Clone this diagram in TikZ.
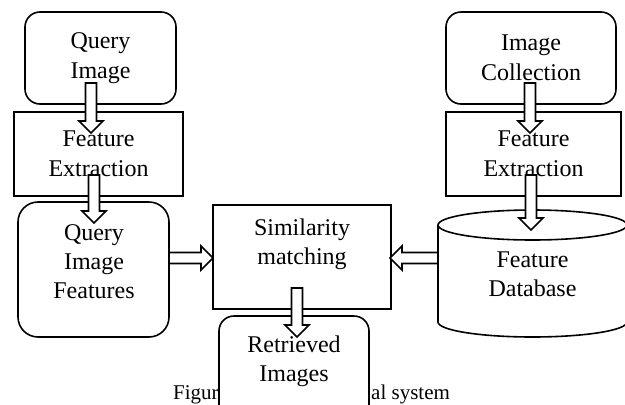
\documentclass[tikz,border=0pt]{standalone}
\usepackage{fontspec}
\setmainfont{Liberation Serif}
\usetikzlibrary{calc}
\tikzset{
  box/.style={draw, line width=1.6pt, fill=white, inner sep=0pt, align=center,
    font=\fontsize{24}{30}\selectfont},
  rbox/.style={box, rounded corners=15pt},
  txt/.style={align=center, font=\fontsize{24}{29}\selectfont, inner sep=0pt},
  barrow/.style={draw, line width=1.6pt, fill=white, line join=miter},
  figcap/.style={font=\fontsize{21}{24}\selectfont, inner sep=0pt, anchor=base west}
}
\newcommand\blockarrow[2]{\path[barrow] let \p1=(#1), \p2=(#2),
  \n1={atan2(\y2-\y1,\x2-\x1)}, \n2={veclen(\x2-\x1,\y2-\y1)} in
  [shift={(\p1)}, rotate=\n1] (0,-5.5) -- (\n2-12,-5.5) -- (\n2-12,-12) -- (\n2,0)
  -- (\n2-12,12) -- (\n2-12,5.5) -- (0,5.5) -- cycle;}
\begin{document}
\begin{tikzpicture}[x=1pt,y=1pt]
\useasboundingbox (0,0) rectangle (625,-405);
% caption (partly hidden by the Retrieved Images box)
\node[figcap] (capa) at (173,-399) {Figur};
\node[figcap] (capb) at (371,-399) {al system};
% boxes
\node[rbox, minimum width=151pt, minimum height=92pt] (qi) at (100.5,-58) {Query\\Image};
\node[box, minimum width=169pt, minimum height=84pt] (fe1) at (98.5,-154) {Feature\\Extraction};
\node[box, rounded corners=20pt, minimum width=151pt, minimum height=135pt] (qif) at (93.5,-269.5) {};
\node[txt] (qiftxt) at (94,-262) {Query\\Image\\Features};
\node[box, minimum width=178pt, minimum height=104pt] (sm) at (302,-257) {};
\node[txt] (smtxt) at (302,-244) {Similarity\\matching};
\node[rbox, minimum width=170pt, minimum height=92pt] (ic) at (531,-58) {Image\\Collection};
\node[box, minimum width=175pt, minimum height=84pt] (fe2) at (533.5,-154) {Feature\\Extraction};
% cylinder
\draw[line width=1.6pt, fill=white] (438,-225) -- (438,-322) arc (180:360:94.5 and 15)
  -- (627,-225) arc (0:180:94.5 and 15) -- cycle;
\draw[line width=1.6pt] (438,-225) arc (180:360:94.5 and 15);
\node[txt] (fd) at (532.5,-274) {Feature\\Database};
% retrieved images
\node[rbox, minimum width=150pt, minimum height=104pt] (ri) at (294,-368) {};
\node[txt] (ritxt) at (294,-361) {Retrieved\\Images};
% arrow ends
\coordinate (a1s) at (91,-83);   \coordinate (a1e) at (91,-133);
\coordinate (a2s) at (94,-175);  \coordinate (a2e) at (94,-223);
\coordinate (a3s) at (530,-83);  \coordinate (a3e) at (530,-133);
\coordinate (a4s) at (531,-175); \coordinate (a4e) at (531,-230);
\coordinate (a5s) at (169,-258); \coordinate (a5e) at (213,-258);
\coordinate (a6s) at (438,-258); \coordinate (a6e) at (390,-258);
\coordinate (a7s) at (297,-288); \coordinate (a7e) at (297,-337);
\blockarrow{a1s}{a1e}
\blockarrow{a2s}{a2e}
\blockarrow{a3s}{a3e}
\blockarrow{a4s}{a4e}
\blockarrow{a5s}{a5e}
\blockarrow{a6s}{a6e}
\blockarrow{a7s}{a7e}
\end{tikzpicture}
\end{document}
